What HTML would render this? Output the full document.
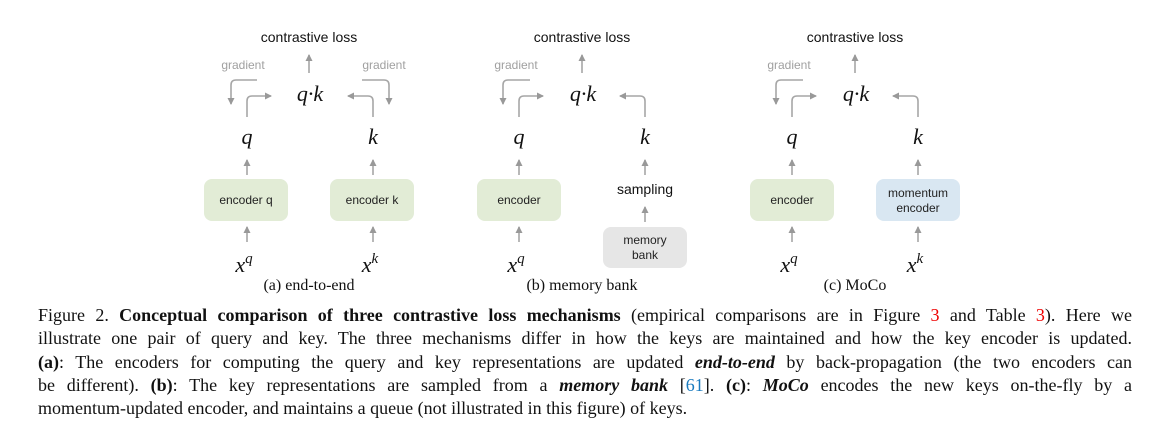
<!DOCTYPE html>
<html><head><meta charset="utf-8"><style>
html,body{margin:0;padding:0;background:#fff;width:1158px;height:437px;overflow:hidden;position:relative}
svg{position:absolute;left:0;top:0}
.cap{position:absolute;left:38px;width:1094px;font-family:"Liberation Serif",serif;font-size:18px;color:#111;line-height:23.3px;top:304px}
.cap div{text-align:justify;text-align-last:justify;white-space:nowrap}
.cap div.l{text-align-last:left}
.r{color:#e00}.b{color:#1a7bbf}
</style></head><body>
<svg width="1158" height="300" viewBox="0 0 1158 300">
<defs>
<marker id="ah" markerWidth="8" markerHeight="8" refX="6" refY="4" orient="auto" markerUnits="userSpaceOnUse">
<path d="M0,0.5 L7,4 L0,7.5 Z" fill="#999"/></marker>
</defs>
<g fill="none" stroke="#a6a6a6" stroke-width="1.6" marker-end="url(#ah)">
<path d="M309,73 V55"/>
<path d="M257,80 H236 Q231,80 231,85 V104"/>
<path d="M247,117 V101 Q247,96 252,96 H271"/>
<path d="M373,117 V101 Q373,96 368,96 H348"/>
<path d="M362,80 H384 Q389,80 389,85 V104"/>
<path d="M247,175 V160"/><path d="M373,175 V160"/>
<path d="M247,242 V227"/><path d="M373,242 V227"/>
<path d="M582,73 V55"/>
<path d="M530,80 H508 Q503,80 503,85 V104"/>
<path d="M519,117 V101 Q519,96 524,96 H543"/>
<path d="M645,117 V101 Q645,96 640,96 H620"/>
<path d="M519,175 V160"/><path d="M645,175 V160"/>
<path d="M519,242 V227"/><path d="M645,222 V207"/>
<path d="M855,73 V55"/>
<path d="M803,80 H781 Q776,80 776,85 V104"/>
<path d="M792,117 V101 Q792,96 797,96 H816"/>
<path d="M918,117 V101 Q918,96 913,96 H893"/>
<path d="M792,175 V160"/><path d="M918,175 V160"/>
<path d="M792,242 V227"/><path d="M918,242 V227"/>
</g>
<g>
<rect x="204" y="179" width="84" height="42" rx="8" fill="#e2ecd6"/>
<rect x="330" y="179" width="84" height="42" rx="8" fill="#e2ecd6"/>
<rect x="477" y="179" width="84" height="42" rx="8" fill="#e2ecd6"/>
<rect x="603" y="227" width="84" height="41" rx="8" fill="#e6e6e6"/>
<rect x="750" y="179" width="84" height="42" rx="8" fill="#e2ecd6"/>
<rect x="876" y="179" width="84" height="42" rx="8" fill="#d9e7f2"/>
</g>
<g font-family="Liberation Sans, sans-serif" text-anchor="middle">
<text x="309" y="42" font-size="14" fill="#111">contrastive loss</text>
<text x="582" y="42" font-size="14" fill="#111">contrastive loss</text>
<text x="855" y="42" font-size="14" fill="#111">contrastive loss</text>
<g font-size="12" fill="#a0a0a0">
<text x="243" y="69">gradient</text><text x="384" y="69">gradient</text>
<text x="516" y="69">gradient</text><text x="789" y="69">gradient</text>
</g>
<g font-size="12" fill="#222">
<text x="246" y="204">encoder q</text><text x="372" y="204">encoder k</text>
<text x="519" y="204">encoder</text><text x="792" y="204">encoder</text>
<text x="918" y="197">momentum</text><text x="918" y="212">encoder</text>
<text x="645" y="244">memory</text><text x="645" y="259">bank</text>
</g>
<text x="645" y="194" font-size="14" fill="#111">sampling</text>
</g>
<g font-family="Liberation Serif, serif" font-style="italic" font-size="22" fill="#111" text-anchor="middle">
<text x="310" y="101">q·k</text><text x="583" y="101">q·k</text><text x="856" y="101">q·k</text>
<text x="247" y="144">q</text><text x="373" y="144">k</text>
<text x="519" y="144">q</text><text x="645" y="144">k</text>
<text x="792" y="144">q</text><text x="918" y="144">k</text>
<text x="244" y="272">x<tspan font-size="15" dy="-9">q</tspan></text>
<text x="370" y="272">x<tspan font-size="15" dy="-9">k</tspan></text>
<text x="516" y="272">x<tspan font-size="15" dy="-9">q</tspan></text>
<text x="789" y="272">x<tspan font-size="15" dy="-9">q</tspan></text>
<text x="915" y="272">x<tspan font-size="15" dy="-9">k</tspan></text>
</g>
<g font-family="Liberation Serif, serif" font-size="16" fill="#111" text-anchor="middle">
<text x="309" y="290">(a) end-to-end</text>
<text x="582" y="290">(b) memory bank</text>
<text x="855" y="290">(c) MoCo</text>
</g>
</svg>
<div class="cap">
<div>Figure 2. <b>Conceptual comparison of three contrastive loss mechanisms</b> (empirical comparisons are in Figure <span class="r">3</span> and Table <span class="r">3</span>). Here we</div>
<div>illustrate one pair of query and key. The three mechanisms differ in how the keys are maintained and how the key encoder is updated.</div>
<div><b>(a)</b>: The encoders for computing the query and key representations are updated <b><i>end-to-end</i></b> by back-propagation (the two encoders can</div>
<div>be different). <b>(b)</b>: The key representations are sampled from a <b><i>memory bank</i></b> [<span class="b">61</span>]. <b>(c)</b>: <b><i>MoCo</i></b> encodes the new keys on-the-fly by a</div>
<div class="l">momentum-updated encoder, and maintains a queue (not illustrated in this figure) of keys.</div>
</div>
</body></html>
